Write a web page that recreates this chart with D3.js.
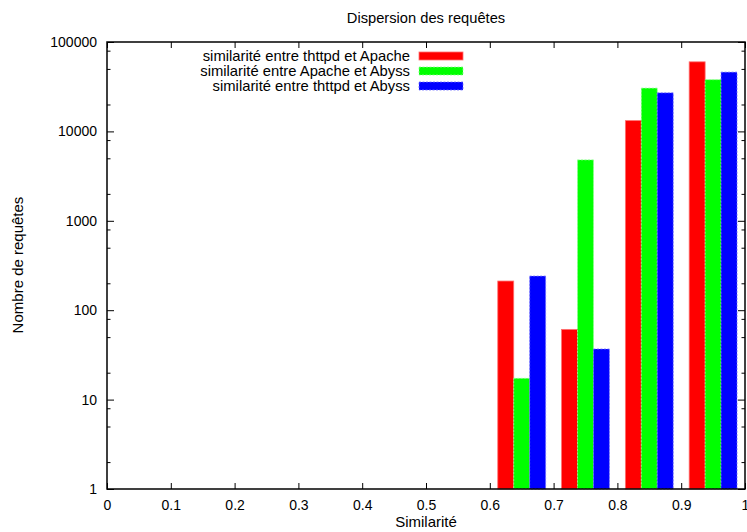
<!DOCTYPE html>
<html lang="fr">
<head>
<meta charset="UTF-8" />
<title>Dispersion des requêtes</title>
<script src="https://d3js.org/d3.v7.min.js"></script>
<style>
    body { margin: 0; background: #fff; }
    svg { display: block; font-family: "Liberation Sans", Arial, sans-serif; }
    text { fill: #000; }
</style>
</head>
<body>
<svg id="chart" width="747" height="532"></svg>
<script>
    // données
    const bins = [0.6, 0.7, 0.8, 0.9];
    const seriesNames = [
        "similarité entre thttpd et Apache",
        "similarité entre Apache et Abyss",
        "similarité entre thttpd et Abyss"
    ];
    const seriesColors = ["#ff0000", "#00ff00", "#0000ff"];
    const edgeColors = ["#ff7070", "#90ff90", "#7070ff"];
    const thttpdApache = [212, 61, 13200, 60000];
    const apacheAbyss = [17.3, 4800, 30500, 37900];
    const thttpdAbyss = [241, 36.8, 27000, 46000];
    const xTicks = [0, 0.1, 0.2, 0.3, 0.4, 0.5, 0.6, 0.7, 0.8, 0.9, 1];
    const yTicks = [1, 10, 100, 1000, 10000, 100000];

    const series = [thttpdApache, apacheAbyss, thttpdAbyss];

    const svg = d3.select("#chart");
    const margin = { top: 42, right: 2, bottom: 43, left: 107 };
    const width = +svg.attr("width");
    const height = +svg.attr("height");
    const x0 = margin.left, x1 = width - margin.right;
    const y0 = height - margin.bottom, y1 = margin.top;

    const x = d3.scaleLinear().domain([0, 1]).range([x0, x1]);
    const y = d3.scaleLog().domain([1, 100000]).range([y0, y1]);

    const barW = 0.025;

    // barres
    series.forEach((vals, si) => {
        svg.append("g")
            .selectAll("rect")
            .data(vals)
            .join("rect")
            .attr("x", (d, i) => x(bins[i] + 0.0125 + si * barW))
            .attr("width", x(barW) - x(0))
            .attr("y", d => y(d))
            .attr("height", d => y(1) - y(d))
            .attr("fill", seriesColors[si])
            .attr("stroke", edgeColors[si])
            .attr("stroke-width", 0.8)
            .attr("stroke-dasharray", si === 0 ? null : "2,1.5");
    });

    // ticks mineurs (log)
    const minorTicks = [];
    for (let k = 0; k < 5; k++) {
        [2, 5, 8].forEach(m => minorTicks.push(m * Math.pow(10, k)));
    }

    // axes principaux
    const tickFmt = d => d === 0 ? "0" : d === 1 ? "1" : d3.format(".1f")(d);
    svg.append("g")
        .attr("transform", `translate(0,${y0})`)
        .call(d3.axisBottom(x).tickValues(xTicks).tickFormat(tickFmt).tickSizeInner(-6).tickSizeOuter(0).tickPadding(11))
        .call(g => g.select(".domain").remove())
        .call(g => g.selectAll("text").attr("font-size", 14).attr("font-family", "Liberation Sans, Arial, sans-serif"));
    svg.append("g")
        .attr("transform", `translate(0,${y1})`)
        .call(d3.axisTop(x).tickValues(xTicks).tickFormat("").tickSizeInner(-6).tickSizeOuter(0))
        .call(g => g.select(".domain").remove());

    svg.append("g")
        .attr("transform", `translate(${x0},0)`)
        .call(d3.axisLeft(y).tickValues(yTicks).tickFormat(d3.format("d")).tickSizeInner(-7).tickSizeOuter(0).tickPadding(10))
        .call(g => g.select(".domain").remove())
        .call(g => g.selectAll("text").attr("font-size", 14).attr("font-family", "Liberation Sans, Arial, sans-serif"));
    svg.append("g")
        .attr("transform", `translate(${x1},0)`)
        .call(d3.axisRight(y).tickValues(yTicks).tickFormat("").tickSizeInner(-7).tickSizeOuter(0))
        .call(g => g.select(".domain").remove());

    svg.append("g")
        .attr("transform", `translate(${x0},0)`)
        .call(d3.axisLeft(y).tickValues(minorTicks).tickFormat("").tickSizeInner(-3.5).tickSizeOuter(0))
        .call(g => g.select(".domain").remove());
    svg.append("g")
        .attr("transform", `translate(${x1},0)`)
        .call(d3.axisRight(y).tickValues(minorTicks).tickFormat("").tickSizeInner(-3.5).tickSizeOuter(0))
        .call(g => g.select(".domain").remove());

    // cadre
    svg.append("rect")
        .attr("x", x0).attr("y", y1)
        .attr("width", x1 - x0).attr("height", y0 - y1)
        .attr("fill", "none").attr("stroke", "#000").attr("stroke-width", 1.5);

    // légende
    const legend = svg.append("g").attr("font-size", 14.8);
    seriesNames.forEach((name, i) => {
        const ly = 56 + i * 15;
        legend.append("text")
            .attr("x", 410).attr("y", ly)
            .attr("dy", "0.35em")
            .attr("text-anchor", "end")
            .text(name);
        legend.append("rect")
            .attr("x", 419).attr("y", ly - 4)
            .attr("width", 44).attr("height", 8)
            .attr("fill", seriesColors[i])
            .attr("stroke", edgeColors[i])
            .attr("stroke-width", 0.8)
            .attr("stroke-dasharray", i === 0 ? null : "2,1.5");
    });

    // titres
    svg.append("text")
        .attr("x", 426).attr("y", 23)
        .attr("text-anchor", "middle")
        .attr("font-size", 14.7)
        .text("Dispersion des requêtes");
    svg.append("text")
        .attr("x", 426).attr("y", 527)
        .attr("text-anchor", "middle")
        .attr("font-size", 15)
        .text("Similarité");
    svg.append("text")
        .attr("transform", "translate(23,265) rotate(-90)")
        .attr("text-anchor", "middle")
        .attr("font-size", 15)
        .text("Nombre de requêtes");
</script>
</body>
</html>
